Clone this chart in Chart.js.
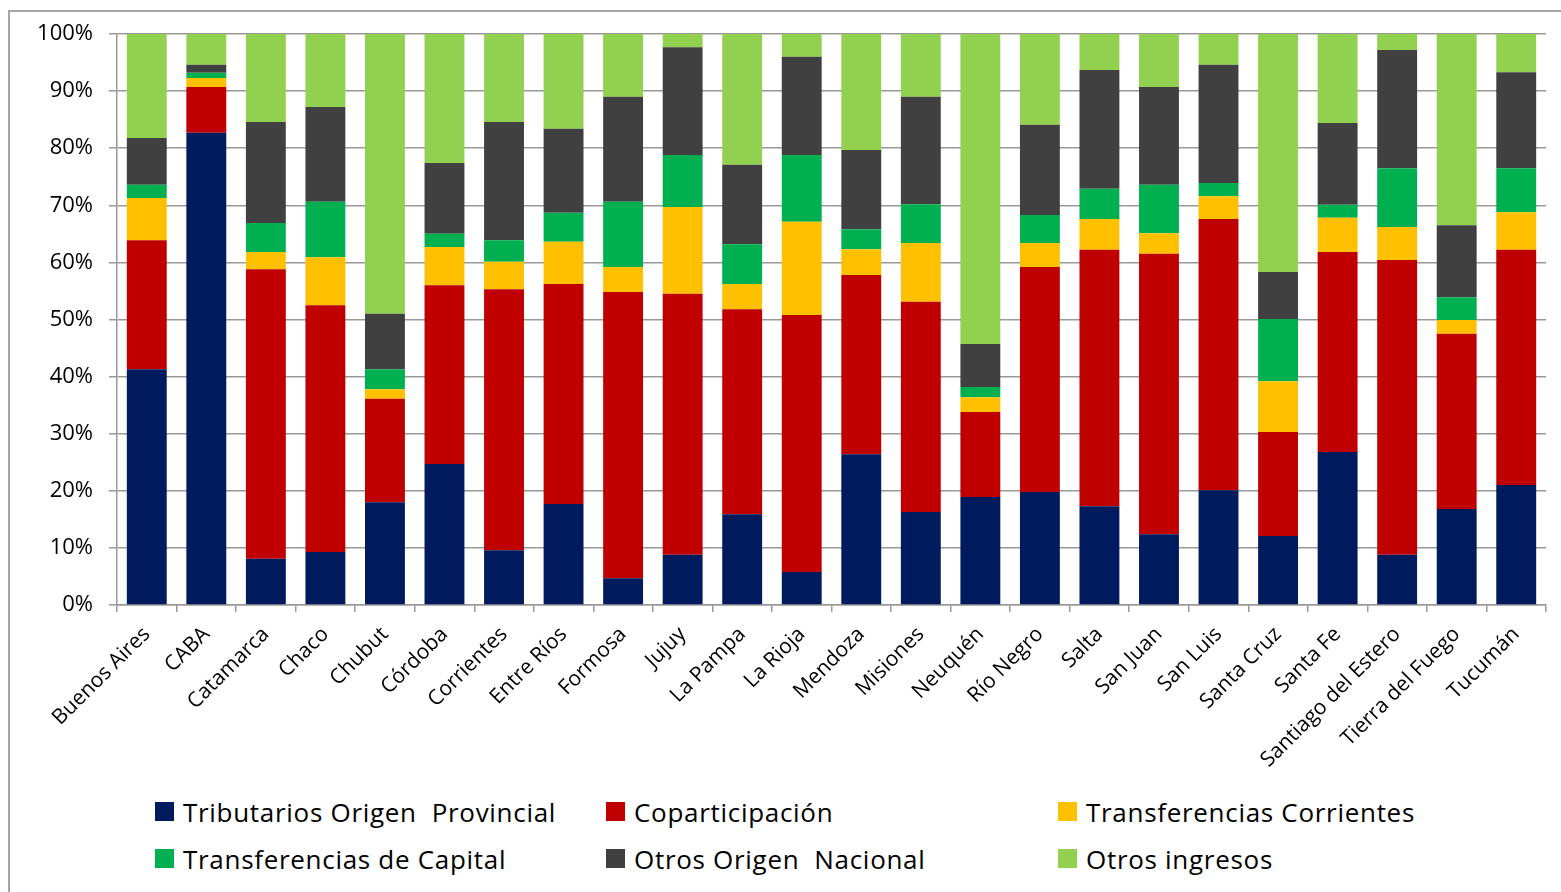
<!DOCTYPE html>
<html>
<head>
<meta charset="utf-8">
<script src="https://cdn.jsdelivr.net/npm/chart.js@4/dist/chart.umd.min.js"></script>
<style>
    body { margin: 0; background: #fff; }
    #frame {
        position: absolute; left: 8px; top: 10px;
        width: 1600px; height: 900px;
        border: 2px solid #a6a6a6; box-sizing: border-box;
    }
    #wrap { position: absolute; left: 0; top: 0; width: 1551px; height: 770px; }
    #legend {
        position: absolute; left: 145px; top: 784px;
        display: grid; grid-template-columns: 451px 452px 451px;
        row-gap: 16px;
        font-family: "Open Sans", sans-serif; font-size: 26px; letter-spacing: 0.7px; color: #000;
    }
    .item { display: flex; align-items: center; height: 31px; white-space: pre; }
    .box { width: 19px; height: 19px; margin-right: 9px; }
</style>
</head>
<body>
<div id="frame">
    <div id="wrap"><canvas id="chartCanvas"></canvas></div>
    <div id="legend"></div>
</div>
<script>
const provinces = ["Buenos Aires", "CABA", "Catamarca", "Chaco", "Chubut", "Córdoba", "Corrientes",
    "Entre Ríos", "Formosa", "Jujuy", "La Pampa", "La Rioja", "Mendoza", "Misiones", "Neuquén",
    "Río Negro", "Salta", "San Juan", "San Luis", "Santa Cruz", "Santa Fe", "Santiago del Estero",
    "Tierra del Fuego", "Tucumán"];

const tributarios = [41.3, 82.7, 8.1, 9.3, 18.0, 24.7, 9.6, 17.7, 4.7, 8.8, 15.9, 5.8, 26.4, 16.3, 18.9,
    19.8, 17.3, 12.4, 20.1, 12.1, 26.8, 8.8, 16.8, 21.0];
const coparticipacion = [22.6, 8.0, 50.7, 43.2, 18.1, 31.3, 45.7, 38.5, 50.1, 45.7, 35.9, 45.0, 31.4, 36.8, 14.9,
    39.4, 44.9, 49.1, 47.5, 18.2, 35.0, 51.6, 30.7, 41.2];
const transfCorrientes = [7.4, 1.6, 3.0, 8.4, 1.7, 6.7, 4.8, 7.4, 4.4, 15.2, 4.4, 16.3, 4.5, 10.3, 2.6,
    4.2, 5.4, 3.6, 4.0, 8.9, 6.0, 5.8, 2.4, 6.6];
const transfCapital = [2.3, 0.9, 5.1, 9.7, 3.5, 2.3, 3.8, 5.1, 11.4, 9.1, 7.0, 11.7, 3.5, 6.8, 1.8,
    4.9, 5.3, 8.5, 2.3, 10.9, 2.3, 10.3, 4.0, 7.7];
const otrosNacional = [8.2, 1.4, 17.7, 16.6, 9.7, 12.4, 20.7, 14.7, 18.4, 18.9, 13.9, 17.2, 13.9, 18.8, 7.5,
    15.8, 20.8, 17.1, 20.7, 8.2, 14.3, 20.7, 12.6, 16.8];
const otrosIngresos = [18.2, 5.4, 15.4, 12.8, 49.0, 22.6, 15.4, 16.6, 11.0, 2.3, 22.9, 4.0, 20.3, 11.0, 54.3,
    15.9, 6.3, 9.3, 5.4, 41.7, 15.6, 2.8, 33.5, 6.7];

const seriesNames = ["Tributarios Origen  Provincial", "Coparticipación", "Transferencias Corrientes",
    "Transferencias de Capital", "Otros Origen  Nacional", "Otros ingresos"];
const seriesData = [tributarios, coparticipacion, transfCorrientes, transfCapital, otrosNacional, otrosIngresos];
const seriesColors = ["#001a5e", "#c00000", "#ffc000", "#00b050", "#404040", "#92d050"];

const font = "'Open Sans', sans-serif";

const chart = new Chart(document.getElementById("chartCanvas"), {
    type: "bar",
    data: {
        labels: provinces,
        datasets: seriesNames.map((name, i) => ({
            label: name,
            data: seriesData[i],
            backgroundColor: seriesColors[i],
            borderWidth: 0,
            barPercentage: 0.67,
            categoryPercentage: 1
        }))
    },
    options: {
        responsive: true,
        maintainAspectRatio: false,
        animation: false,
        layout: { padding: { top: 0, right: 15, left: 0, bottom: 0 } },
        plugins: { legend: { display: false }, tooltip: { enabled: false } },
        scales: {
            x: {
                stacked: true,
                grid: { drawOnChartArea: false, offset: true, color: "#999", lineWidth: 1.5, tickLength: 7 },
                border: { color: "#999", width: 1.5 },
                ticks: { color: "#000", font: { family: font, size: 21 }, minRotation: 45, maxRotation: 45, padding: 10 },
                afterFit: s => { s.height = 177; }
            },
            y: {
                stacked: true,
                min: 0, max: 100,
                grid: { color: "#999", lineWidth: 1.5, tickLength: 8 },
                border: { color: "#999", width: 1.5 },
                ticks: { stepSize: 10, color: "#000", font: { family: font, size: 22 }, padding: 16,
                    callback: v => v + "%" },
                afterFit: s => { s.width = 107; s.paddingTop = 22; }
            }
        }
    }
});

const legend = document.getElementById("legend");
chart.data.datasets.forEach(ds => {
    const item = document.createElement("div");
    item.className = "item";
    const box = document.createElement("span");
    box.className = "box";
    box.style.background = ds.backgroundColor;
    item.appendChild(box);
    item.appendChild(document.createTextNode(ds.label));
    legend.appendChild(item);
});
</script>
</body>
</html>
